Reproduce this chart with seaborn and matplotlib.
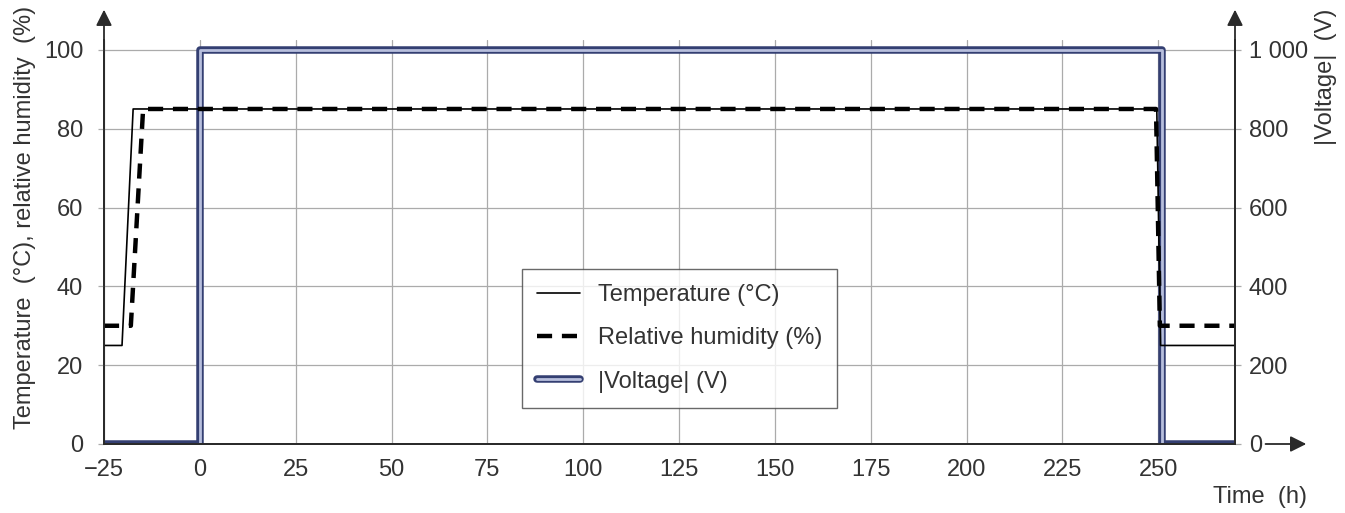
import matplotlib
matplotlib.use("Agg")
import matplotlib.pyplot as plt
import matplotlib.patheffects as pe
import seaborn as sns

# step profiles
time_temp = [-25, -20.3, -17.4, 249.6, 250.6, 270]
temp = [25, 25, 85, 85, 25, 25]

time_rh = [-25, -18, -14.8, 249.4, 250.4, 270]
rh = [30, 30, 85, 85, 30, 30]

time_volt = [-25, 0, 0, 251, 251, 270]
volt = [0, 0, 1000, 1000, 0, 0]

x_ticks = list(range(-25, 251, 25))
left_ticks = [0, 20, 40, 60, 80, 100]
right_ticks = [0, 200, 400, 600, 800, 1000]
right_labels = ["0", "200", "400", "600", "800", "1 000"]

sns.set_style("white")
plt.rcParams['font.family'] = ['Liberation Sans', 'DejaVu Sans']

TXT = '#333333'
AX = '#2a2a2a'
GRID = '#ababab'
FS = 17

fig = plt.figure(figsize=(13.45, 5.13), dpi=100)
ax = fig.add_axes([104 / 1345, 69 / 513, 1131 / 1345, 404 / 513])
ax2 = ax.twinx()

# voltage + grid live on the lower axes, temperature/humidity on top
ax.set_zorder(2)
ax2.set_zorder(1)
ax.patch.set_visible(False)
ax2.patch.set_visible(True)
ax2.patch.set_facecolor('white')

sns.lineplot(x=time_volt, y=volt, ax=ax2, sort=False, estimator=None,
             color='#b8bfdd', lw=2.0, solid_capstyle='round', solid_joinstyle='round',
             label='|Voltage| (V)', legend=False,
             path_effects=[pe.Stroke(linewidth=5.4, foreground='#343f72'), pe.Normal()])

sns.lineplot(x=time_temp, y=temp, ax=ax, sort=False, estimator=None,
             color='black', lw=1.2, label='Temperature (°C)', legend=False)
sns.lineplot(x=time_rh, y=rh, ax=ax, sort=False, estimator=None,
             color='black', lw=3.2, linestyle=(0, (3.4, 2.2)),
             label='Relative humidity (%)', legend=False)

ax.set_xlim(-25, 270)
ax.set_ylim(0, 102.5)
ax2.set_ylim(0, 1025)

ax.set_xticks(x_ticks)
ax.set_yticks(left_ticks)
ax2.set_yticks(right_ticks)
ax2.set_yticklabels(right_labels)

# grid on the lower axes so it stays under the voltage line
ax2.xaxis.set_visible(True)
ax2.set_xticks(x_ticks)
ax2.tick_params(axis='x', bottom=False, top=False, labelbottom=False, labeltop=False)
ax2.grid(True, color=GRID, lw=0.9)
ax.grid(False)

ax.tick_params(axis='y', direction='out', length=4, width=0.9, color=GRID,
               labelsize=FS, labelcolor=TXT, pad=11)
ax.tick_params(axis='x', length=0, labelsize=FS, labelcolor=TXT, pad=11)
ax2.tick_params(axis='y', direction='out', length=4, width=0.9, color=GRID,
                labelsize=FS, labelcolor=TXT, pad=6)

for a in (ax, ax2):
    a.spines['top'].set_visible(False)
    for s in ('left', 'right', 'bottom'):
        a.spines[s].set_color(AX)
        a.spines[s].set_linewidth(1.3)
    a.set_xlabel('')
    a.set_ylabel('')

# axis arrows
arrow = dict(arrowstyle='-|>', color=AX, lw=1.3, mutation_scale=24, shrinkA=0, shrinkB=0)
ax.annotate('', xy=(0, 1.075), xytext=(0, 1.0), xycoords='axes fraction',
            arrowprops=arrow, annotation_clip=False)
ax.annotate('', xy=(1, 1.075), xytext=(1, 1.0), xycoords='axes fraction',
            arrowprops=arrow, annotation_clip=False)
ax.annotate('', xy=(1.063, 0), xytext=(1.027, 0), xycoords='axes fraction',
            arrowprops=arrow, annotation_clip=False)

fig.text(25 / 1345, 1 - 217 / 513, 'Temperature  (°C), relative humidity  (%)',
         rotation=90, ha='center', va='center', fontsize=FS, color=TXT)
fig.text(1326 / 1345, 1 - 77 / 513, '|Voltage|  (V)',
         rotation=90, ha='center', va='center', fontsize=FS, color=TXT)
fig.text(1260 / 1345, 1 - 497 / 513, 'Time  (h)',
         ha='center', va='center', fontsize=FS, color=TXT)

handles = ax.get_lines() + ax2.get_lines()
labels = [h.get_label() for h in handles]
leg = ax.legend(handles, labels, loc='lower left', bbox_to_anchor=(0.3696, 0.089),
                borderaxespad=0, fontsize=FS, frameon=True, fancybox=False,
                handlelength=1.8, labelspacing=0.9, borderpad=0.65, handletextpad=0.75)
leg.get_frame().set_edgecolor('#444444')
leg.get_frame().set_linewidth(1.0)
for t in leg.get_texts():
    t.set_color(TXT)

fig.savefig('out.png', dpi=100)
